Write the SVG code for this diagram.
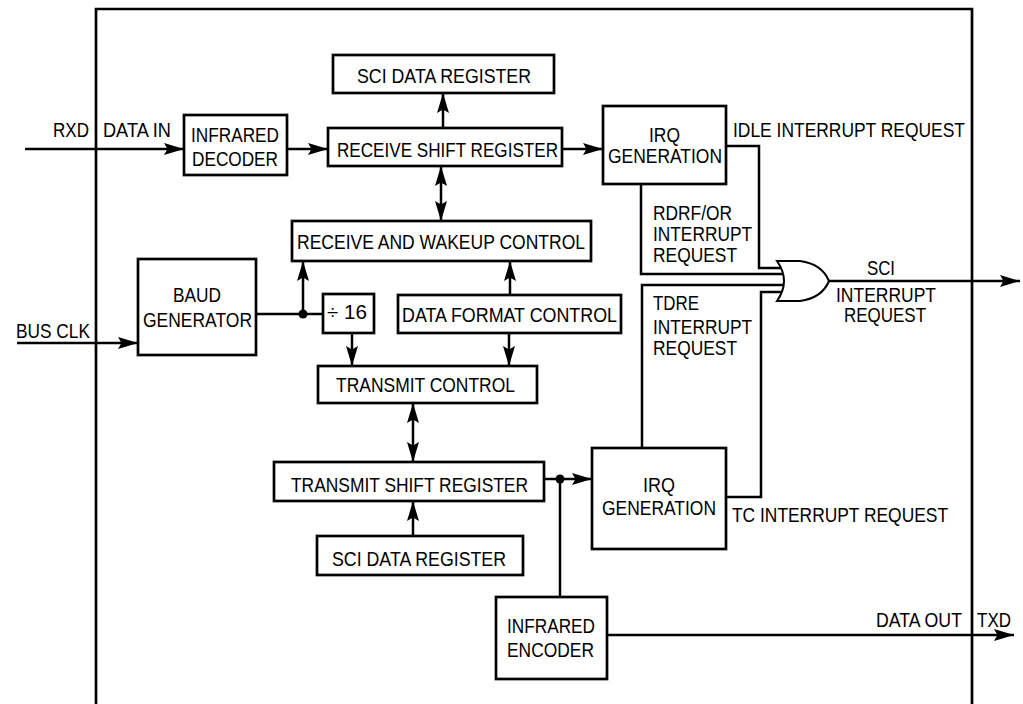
<svg xmlns="http://www.w3.org/2000/svg" width="1023" height="704" viewBox="0 0 1023 704">
<style>
rect.b{fill:#fff;stroke:#000;stroke-width:2.7}
text{font-family:"Liberation Sans",Arial,sans-serif;font-size:21px;fill:#000}
.c{fill:none;stroke:#000;stroke-width:2.5}
.a{marker-end:url(#ah)}
.d{marker-start:url(#ah);marker-end:url(#ah)}
</style>
<defs>
<marker id="ah" markerUnits="userSpaceOnUse" markerWidth="22" markerHeight="13" refX="20" refY="6" orient="auto-start-reverse" overflow="visible">
<path d="M0,0 L20,6 L0,12 L3.5,6 Z" fill="#000"/>
</marker>
</defs>
<rect width="1023" height="704" fill="#fff"/>
<path id="frame" d="M96,704 V9 H972 V704" fill="none" stroke="#000" stroke-width="2.7"/>

<g id="connectors">
<path class="c a" d="M25,149 H184"/>
<path class="c a" d="M287,149 H328"/>
<path class="c a" d="M443,128 V93"/>
<path class="c a" d="M562,149 H603"/>
<path class="c d" d="M441,166 V221"/>
<path class="c a" d="M17,343 H138"/>
<path class="c" d="M256,314 H323"/>
<circle cx="303" cy="314" r="4.5" fill="#000"/>
<path class="c a" d="M303,314 V261"/>
<path class="c a" d="M352,333 V366"/>
<path class="c a" d="M510,295 V261"/>
<path class="c a" d="M509,333 V366"/>
<path class="c d" d="M413,403 V462"/>
<path class="c a" d="M413,536 V501"/>
<path class="c a" d="M544,479 H592"/>
<circle cx="560" cy="479" r="4.5" fill="#000"/>
<path class="c" d="M560,479 V597"/>
<path class="c a" d="M607,635 H1014"/>
<path class="c" d="M726,146 H759 V268 H781"/>
<path class="c" d="M641,184 V274 H783"/>
<path class="c" d="M642,448 V285 H784"/>
<path class="c" d="M726,497 H761 V292 H782"/>
<path class="c a" d="M829,281 H1020"/>
</g>

<g id="or-gate">
<path d="M777,261 L800,261 Q822,264 829,281 Q822,298 800,301 L777,301 Q791,281 777,261 Z" fill="#fff" stroke="#000" stroke-width="2"/>
</g>

<g id="labels">
<text x="53" y="137" textLength="36" lengthAdjust="spacingAndGlyphs">RXD</text>
<text x="103" y="137" textLength="68" lengthAdjust="spacingAndGlyphs">DATA IN</text>
<text x="16" y="338" textLength="74" lengthAdjust="spacingAndGlyphs">BUS CLK</text>
<text x="733" y="137" textLength="232" lengthAdjust="spacingAndGlyphs">IDLE INTERRUPT REQUEST</text>
<text x="653" y="220" textLength="79" lengthAdjust="spacingAndGlyphs">RDRF/OR</text>
<text x="653" y="241" textLength="99" lengthAdjust="spacingAndGlyphs">INTERRUPT</text>
<text x="653" y="262" textLength="84" lengthAdjust="spacingAndGlyphs">REQUEST</text>
<text x="653" y="310" textLength="46" lengthAdjust="spacingAndGlyphs">TDRE</text>
<text x="653" y="334" textLength="99" lengthAdjust="spacingAndGlyphs">INTERRUPT</text>
<text x="653" y="355" textLength="84" lengthAdjust="spacingAndGlyphs">REQUEST</text>
<text x="867" y="275" textLength="28" lengthAdjust="spacingAndGlyphs">SCI</text>
<text x="836" y="302" textLength="100" lengthAdjust="spacingAndGlyphs">INTERRUPT</text>
<text x="844" y="322" textLength="82" lengthAdjust="spacingAndGlyphs">REQUEST</text>
<text x="732" y="522" textLength="216" lengthAdjust="spacingAndGlyphs">TC INTERRUPT REQUEST</text>
<text x="876" y="627" textLength="86" lengthAdjust="spacingAndGlyphs">DATA OUT</text>
<text x="977" y="627" textLength="34" lengthAdjust="spacingAndGlyphs">TXD</text>
</g>

<g id="infrared-decoder">
<rect class="b" x="184" y="115" width="103" height="60"/>
<text x="191" y="142" textLength="88" lengthAdjust="spacingAndGlyphs">INFRARED</text>
<text x="192" y="166" textLength="86" lengthAdjust="spacingAndGlyphs">DECODER</text>
</g>
<g id="sci-data-register-top">
<rect class="b" x="333" y="55" width="221" height="38"/>
<text x="357" y="83" textLength="174" lengthAdjust="spacingAndGlyphs">SCI DATA REGISTER</text>
</g>
<g id="receive-shift-register">
<rect class="b" x="328" y="128" width="234" height="38"/>
<text x="337" y="157" textLength="221" lengthAdjust="spacingAndGlyphs">RECEIVE SHIFT REGISTER</text>
</g>
<g id="irq-generation-rx">
<rect class="b" x="603" y="106" width="123" height="78"/>
<text x="649" y="142" textLength="31" lengthAdjust="spacingAndGlyphs">IRQ</text>
<text x="608" y="163" textLength="114" lengthAdjust="spacingAndGlyphs">GENERATION</text>
</g>
<g id="receive-wakeup-control">
<rect class="b" x="292" y="221" width="299" height="40"/>
<text x="297" y="249" textLength="288" lengthAdjust="spacingAndGlyphs">RECEIVE AND WAKEUP CONTROL</text>
</g>
<g id="baud-generator">
<rect class="b" x="138" y="259" width="118" height="96"/>
<text x="173" y="302" textLength="48" lengthAdjust="spacingAndGlyphs">BAUD</text>
<text x="143" y="327" textLength="109" lengthAdjust="spacingAndGlyphs">GENERATOR</text>
</g>
<g id="divide-16">
<rect class="b" x="323" y="294" width="51" height="39"/>
<text x="327" y="319" textLength="40" lengthAdjust="spacingAndGlyphs">÷ 16</text>
</g>
<g id="data-format-control">
<rect class="b" x="398" y="295" width="223" height="38"/>
<text x="402" y="322" textLength="215" lengthAdjust="spacingAndGlyphs">DATA FORMAT CONTROL</text>
</g>
<g id="transmit-control">
<rect class="b" x="318" y="366" width="219" height="37"/>
<text x="336" y="392" textLength="179" lengthAdjust="spacingAndGlyphs">TRANSMIT CONTROL</text>
</g>
<g id="transmit-shift-register">
<rect class="b" x="274" y="462" width="270" height="39"/>
<text x="291" y="492" textLength="237" lengthAdjust="spacingAndGlyphs">TRANSMIT SHIFT REGISTER</text>
</g>
<g id="sci-data-register-bottom">
<rect class="b" x="317" y="536" width="206" height="39"/>
<text x="332" y="566" textLength="174" lengthAdjust="spacingAndGlyphs">SCI DATA REGISTER</text>
</g>
<g id="irq-generation-tx">
<rect class="b" x="592" y="448" width="134" height="101"/>
<text x="643" y="492" textLength="32" lengthAdjust="spacingAndGlyphs">IRQ</text>
<text x="602" y="515" textLength="114" lengthAdjust="spacingAndGlyphs">GENERATION</text>
</g>
<g id="infrared-encoder">
<rect class="b" x="496" y="597" width="111" height="82"/>
<text x="507" y="633" textLength="88" lengthAdjust="spacingAndGlyphs">INFRARED</text>
<text x="507" y="657" textLength="87" lengthAdjust="spacingAndGlyphs">ENCODER</text>
</g>
</svg>
